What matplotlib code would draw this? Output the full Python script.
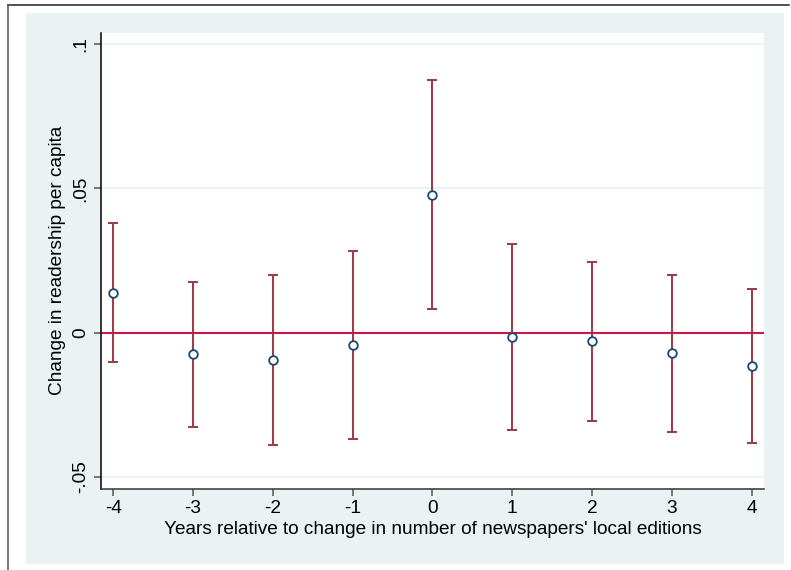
import numpy as np
import matplotlib
matplotlib.use('Agg')
import matplotlib.pyplot as plt
from matplotlib.patches import Rectangle
from matplotlib.lines import Line2D

# event-time coefficients with 95% confidence bounds
years = [-4, -3, -2, -1, 0, 1, 2, 3, 4]
coef = [0.0139, -0.0075, -0.0096, -0.0043, 0.0478, -0.0015, -0.0030, -0.0072, -0.0117]
upper = [0.0381, 0.0176, 0.0200, 0.0283, 0.0876, 0.0308, 0.0245, 0.0200, 0.0152]
lower = [-0.0102, -0.0326, -0.0389, -0.0370, 0.0081, -0.0337, -0.0305, -0.0344, -0.0381]
yticks = [-0.05, 0, 0.05, 0.1]
ytick_labels = ['-.05', '0', '.05', '.1']
xlab = "Years relative to change in number of newspapers' local editions"
ylab = "Change in readership per capita"

plt.rcParams['font.family'] = ['Liberation Sans', 'DejaVu Sans']
W, H = 791, 570
fs = 13.7
band = '#EAF2F3'

fig = plt.figure(figsize=(W / 100, H / 100), dpi=100, facecolor='white')

# Stata-style graph region
fig.add_artist(Rectangle((26 / W, 1 - 564 / H), (784 - 26) / W, (564 - 13) / H,
                         transform=fig.transFigure, facecolor=band, edgecolor='none', zorder=0))
fig.add_artist(Line2D([8 / W, 789 / W], [1 - 5 / H, 1 - 5 / H], transform=fig.transFigure,
                      color='#222222', lw=1.1))
fig.add_artist(Line2D([8 / W, 8 / W], [1 - 5 / H, 0], transform=fig.transFigure,
                      color='#555555', lw=1.1))

ax = fig.add_axes([101.3 / W, 1 - 489 / H, (764.3 - 101.3) / W, (489 - 32.7) / H])
ax.set_facecolor('white')

y = np.array(coef)
err = [y - np.array(lower), np.array(upper) - y]

for t in yticks:
    ax.axhline(t, color=band, lw=1.3, zorder=1)
ax.axhline(0, color='#C8194A', lw=1.5, zorder=2)
ax.errorbar(years, coef, yerr=err, fmt='none', ecolor='#9E3742', elinewidth=1.4,
            capsize=3.3, capthick=1.4, zorder=3)
ax.plot(years, coef, 'o', ms=6.2, mfc='white', mec='#1A476F', mew=1.3, zorder=4)

ax.set_xlim(-4.15, 4.158)
ax.set_ylim(-0.0542, 0.104)
ax.set_xticks(years)
ax.set_xticklabels([str(v) for v in years])
ax.set_yticks(yticks)
ax.set_yticklabels(ytick_labels)

for s in ['top', 'right']:
    ax.spines[s].set_visible(False)
ax.spines['left'].set_color('black')
ax.spines['bottom'].set_color('#333333')
ax.spines['left'].set_linewidth(1.1)
ax.spines['bottom'].set_linewidth(1.1)

ax.tick_params(axis='both', length=5, width=1.1, color='#555555', labelsize=fs)
ax.tick_params(axis='x', pad=3)
ax.tick_params(axis='y', pad=4, labelrotation=90)
for lab in ax.get_yticklabels():
    lab.set_va('center')

ax.set_xlabel(xlab, fontsize=fs)
ax.xaxis.set_label_coords(0.5, -(529 - 489) / (489 - 32.7))
ax.xaxis.label.set_va('center')
ax.set_ylabel(ylab, fontsize=fs)
ax.yaxis.set_label_coords((58 - 101.3) / (764.3 - 101.3), 0.5)
ax.yaxis.label.set_va('center')

fig.savefig('out.png', dpi=100, facecolor='white')
